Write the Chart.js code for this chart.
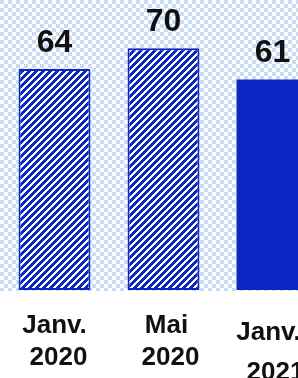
<!DOCTYPE html>
<html>
<head>
<meta charset="utf-8">
<script src="https://cdn.jsdelivr.net/npm/chart.js@4/dist/chart.umd.min.js"></script>
<style>
  html, body { margin: 0; padding: 0; background: #fff; overflow: hidden; }
  #wrap { width: 327px; height: 378px; }
</style>
</head>
<body>
<div id="wrap"><canvas id="grafico" width="327" height="378"></canvas></div>
<script>
const categories = [["Janv.", "2020"], ["Mai", "2020"], ["Janv.", "2021"]];
const values = [64, 70, 61];
const hatched = [true, true, false];

// small per-label nudges (x per line, y drop, line gap)
const labelShift = [[0, 4], [3, 7], [-4, 3]];
const labelDrop = [0, 0, 7];
const lineGap = [32, 32, 40];

const blue = "#0a27c6";

// crisp diagonal stripes, pixel by pixel
function makeHatch() {
    const c = document.createElement("canvas");
    const n = 7;
    c.width = n; c.height = n;
    const g = c.getContext("2d");
    g.fillStyle = "#fff";
    g.fillRect(0, 0, n, n);
    g.fillStyle = blue;
    for (let y = 0; y < n; y++) {
        for (let x = 0; x < n; x++) {
            if ((x + y) % n < 4) g.fillRect(x, y, 1, 1);
        }
    }
    return g.createPattern(c, "repeat");
}

function makeChecks() {
    const c = document.createElement("canvas");
    c.width = 8; c.height = 8;
    const g = c.getContext("2d");
    g.fillStyle = "#ffffff";
    g.fillRect(0, 0, 8, 8);
    g.fillStyle = "#c9dcf7";
    g.fillRect(0, 0, 4, 4);
    g.fillRect(4, 4, 4, 4);
    return g.createPattern(c, "repeat");
}

const ctx0 = document.getElementById("grafico").getContext("2d");
const hatch = makeHatch();
const checks = makeChecks();

const bgPlugin = {
    id: "checks",
    beforeDraw: function (chart) {
        const a = chart.chartArea;
        const g = chart.ctx;
        g.save();
        g.fillStyle = checks;
        g.fillRect(0, a.top, chart.width, a.bottom - a.top + 1);
        g.restore();
    }
};

const labelPlugin = {
    id: "labels",
    afterDraw: function (chart) {
        const g = chart.ctx;
        const meta = chart.getDatasetMeta(0);
        const xs = chart.scales.x;
        g.save();
        g.fillStyle = "#111";
        g.textAlign = "center";
        g.textBaseline = "alphabetic";
        g.font = "bold 32px 'Liberation Sans', Arial, sans-serif";
        meta.data.forEach(function (bar, i) {
            g.fillText(String(values[i]), bar.x, bar.y - 17);
        });
        g.font = "bold 26px 'Liberation Sans', Arial, sans-serif";
        categories.forEach(function (lines, i) {
            const x = xs.getPixelForValue(i);
            lines.forEach(function (t, j) {
                g.fillText(t, x + labelShift[i][j], chart.chartArea.bottom + 43 + labelDrop[i] + j * lineGap[i]);
            });
        });
        g.restore();
    }
};

new Chart(ctx0, {
    type: "bar",
    data: {
        labels: categories.map(function (c) { return c.join(" "); }),
        datasets: [{
            data: values,
            backgroundColor: hatched.map(function (h) { return h ? hatch : blue; }),
            borderColor: blue,
            borderWidth: hatched.map(function (h) { return h ? 2 : 0; }),
            borderSkipped: false,
            barPercentage: 0.66,
            categoryPercentage: 1
        }]
    },
    options: {
        responsive: false,
        animation: false,
        layout: { padding: { left: 0, right: 0, top: 0, bottom: 88 } },
        plugins: { legend: { display: false }, tooltip: { enabled: false } },
        scales: {
            x: { display: false },
            y: { display: false, min: 0, max: 84 }
        }
    },
    plugins: [bgPlugin, labelPlugin]
});
</script>
</body>
</html>
